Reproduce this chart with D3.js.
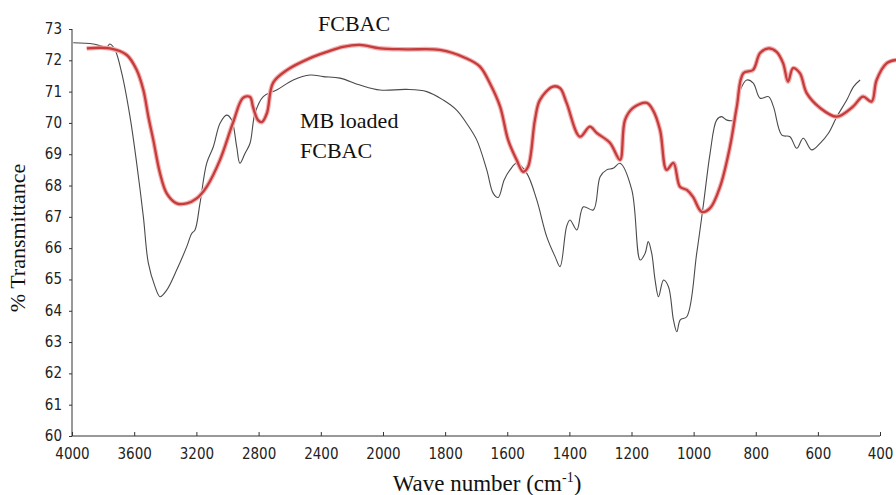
<!DOCTYPE html>
<html>
<head>
<meta charset="utf-8">
<script src="https://cdn.jsdelivr.net/npm/d3@7"></script>
<style>
  html, body { margin: 0; padding: 0; background: #fff; }
  svg { display: block; }
  .tick text { font-family: "DejaVu Sans Condensed", "Liberation Sans Narrow", "Liberation Sans", sans-serif; font-size: 15px; fill: #222; }
  .serif { font-family: "Liberation Serif", "Times New Roman", serif; fill: #111; }
</style>
</head>
<body>
<svg id="chart" width="896" height="495"></svg>
<script>
// ---- Data (wavenumber cm^-1, % transmittance) ----
const fcbacWave = [3905,3756,3648,3584,3541,3509,3477,3434,3391,3327,3262,3198,3134,3048,2965,2900,2855,2836,2804,2778,2746,2707,2617,2469,2360,2257,2148,2019,1924,1817,1731,1688,1656,1623,1597,1570,1549,1533,1511,1495,1453,1430,1409,1366,1334,1312,1269,1237,1221,1195,1151,1131,1108,1087,1065,1044,1022,1002,974,947,915,883,861,840,809,786,759,733,712,696,680,658,636,593,539,487,455,427,411,378,348];
const fcbacT = [72.38,72.38,72.17,71.69,71.05,70.20,69.45,68.39,67.75,67.43,67.43,67.59,67.96,68.82,70.00,70.80,70.83,70.51,70.09,70.03,70.32,71.28,71.69,72.07,72.27,72.43,72.49,72.38,72.35,72.33,72.06,71.80,71.27,70.52,69.45,68.82,68.44,68.60,70.09,70.73,71.16,71.11,70.64,69.56,69.88,69.68,69.36,68.82,70.09,70.48,70.64,70.41,69.77,68.50,68.72,67.96,67.86,67.64,67.16,67.28,67.96,69.24,70.52,71.59,71.69,72.23,72.38,72.27,71.91,71.32,71.75,71.59,70.95,70.48,70.20,70.52,70.84,70.68,71.37,71.91,72.01];

const mbWave = [3992,3863,3777,3756,3723,3680,3627,3584,3541,3509,3466,3434,3391,3327,3262,3230,3209,3177,3134,3091,3048,3005,2973,2941,2920,2887,2855,2823,2770,2684,2577,2469,2384,2277,2148,2019,1924,1859,1806,1763,1731,1698,1666,1645,1629,1610,1591,1570,1537,1505,1473,1446,1430,1409,1398,1376,1355,1323,1301,1280,1259,1237,1199,1172,1156,1146,1135,1124,1113,1097,1081,1065,1054,1043,1022,990,968,947,926,910,893,872,850,829,808,786,759,743,716,690,668,647,620,593,566,539,507,485,464];
const mbT = [72.56,72.52,72.43,72.52,72.33,71.59,70.20,68.71,67.00,65.52,64.77,64.45,64.66,65.30,66.05,66.47,66.58,67.43,68.71,69.24,69.99,70.25,70.09,69.24,68.71,69.03,69.35,70.31,70.84,71.05,71.37,71.53,71.48,71.43,71.21,71.05,71.07,71.00,70.73,70.41,69.99,69.45,68.50,67.75,67.62,68.18,68.50,68.71,68.39,67.54,66.37,65.73,65.41,66.69,66.90,66.58,67.32,67.22,68.28,68.50,68.55,68.71,67.86,65.62,65.84,66.21,65.84,64.98,64.45,64.98,64.77,63.71,63.33,63.71,63.81,65.84,67.43,69.03,70.09,70.20,70.09,70.09,71.05,71.37,71.27,70.79,70.84,70.52,69.61,69.56,69.19,69.51,69.14,69.35,69.67,70.20,70.73,71.16,71.37];

const xTicks = [4000,3600,3200,2800,2400,2000,1800,1600,1400,1200,1000,800,600,400];
const yTicks = [60,61,62,63,64,65,66,67,68,69,70,71,72,73];

// ---- Layout ----
const svg = d3.select("#chart");
const mLeft = 72, mRight = 880, mTop = 29, mBottom = 436;

// FTIR axis with scale change at 2000 cm^-1
const x = d3.scaleLinear().domain([4000, 2000, 400]).range([mLeft, 383, mRight]);
const y = d3.scaleLinear().domain([60, 73]).range([mBottom, mTop]);

// Axes
const yAxis = d3.axisLeft(y).tickValues(yTicks).tickFormat(d3.format("d")).tickSize(3).tickPadding(7);
const gy = svg.append("g").attr("transform", `translate(${mLeft},0)`).call(yAxis);
gy.select(".domain").attr("stroke", "#333").attr("d", `M0,${mTop}V${mBottom}`);
gy.selectAll(".tick line").attr("stroke", "#333");
gy.selectAll(".tick text").attr("dy", "0.3em");

const xAxis = d3.axisBottom(x).tickValues(xTicks).tickFormat(d3.format("d")).tickSize(-4).tickPadding(12);
const gx = svg.append("g").attr("transform", `translate(0,${mBottom})`).call(xAxis);
gx.select(".domain").attr("stroke", "#333").attr("d", `M${mLeft},0H${mRight}`);
gx.selectAll(".tick line").attr("stroke", "#333");

// Lines
const line = d3.line().x(d => x(d[0])).y(d => y(d[1])).curve(d3.curveCatmullRom.alpha(0.5));
const mbData = mbWave.map((w, i) => [w, mbT[i]]);
const fcData = fcbacWave.map((w, i) => [w, fcbacT[i]]);

svg.append("path").datum(mbData).attr("d", line)
  .attr("fill", "none").attr("stroke", "#4a4a4a").attr("stroke-width", 1.1);

svg.append("path").datum(fcData).attr("d", line)
  .attr("fill", "none").attr("stroke", "#f4b0b0").attr("stroke-width", 4.6).attr("stroke-linejoin", "round");
svg.append("path").datum(fcData).attr("d", line)
  .attr("fill", "none").attr("stroke", "#c43c3c").attr("stroke-width", 2.3).attr("stroke-linejoin", "round");

// Annotations
svg.append("text").attr("class", "serif").attr("x", 318).attr("y", 31).attr("font-size", 22).text("FCBAC");
svg.append("text").attr("class", "serif").attr("x", 300).attr("y", 128).attr("font-size", 22).text("MB loaded");
svg.append("text").attr("class", "serif").attr("x", 300).attr("y", 158).attr("font-size", 22).text("FCBAC");

// Axis titles
const xt = svg.append("text").attr("class", "serif").attr("x", 487).attr("y", 491)
  .attr("text-anchor", "middle").attr("font-size", 23);
xt.append("tspan").text("Wave number (cm");
xt.append("tspan").attr("font-size", 14).attr("dy", -9).text("-1");
xt.append("tspan").attr("dy", 9).text(")");

svg.append("text").attr("class", "serif")
  .attr("transform", "translate(25,238) rotate(-90)")
  .attr("text-anchor", "middle").attr("font-size", 22).text("% Transmittance");
</script>
</body>
</html>
